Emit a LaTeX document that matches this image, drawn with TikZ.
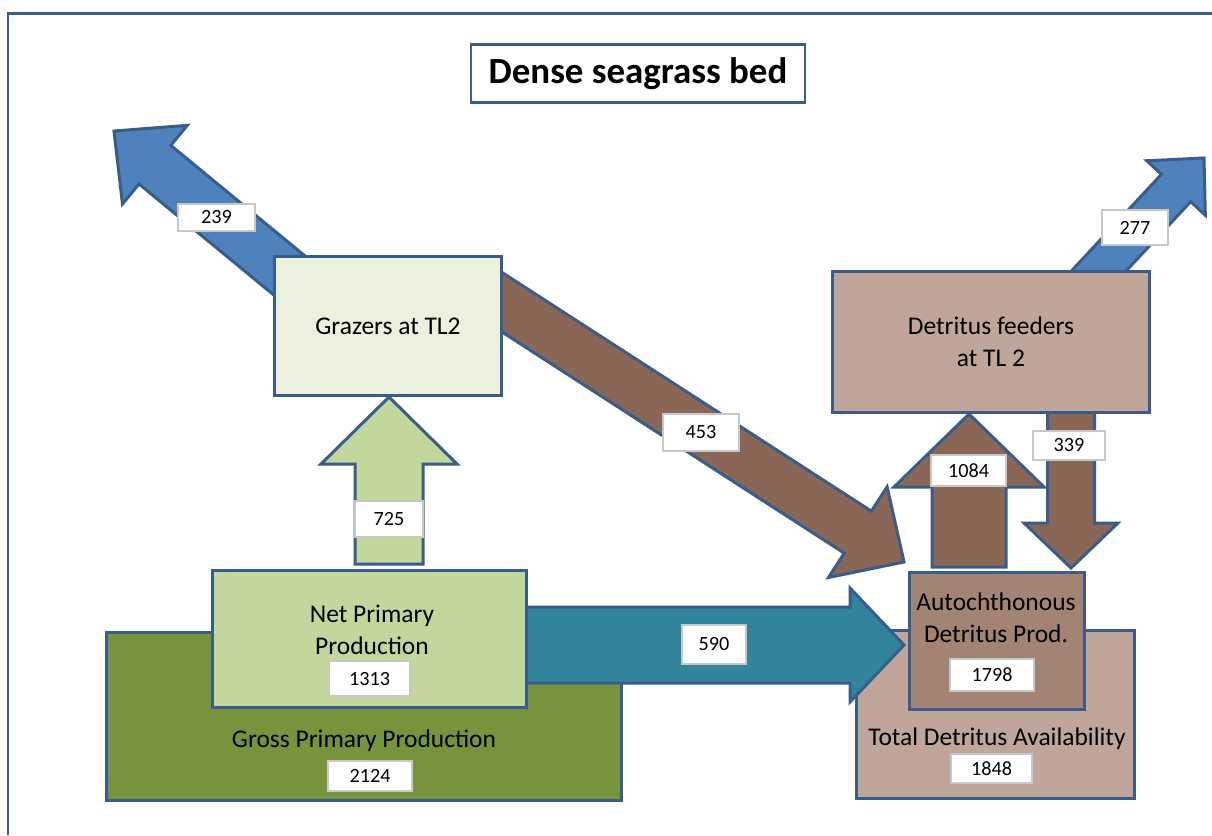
\documentclass[tikz,border=0pt]{standalone}
\usepackage{fontspec}
\setmainfont{Carlito}
\usetikzlibrary{positioning,calc}
\usepackage{xcolor}
\definecolor{lineblue}{HTML}{385D8A}
\definecolor{flowblue}{HTML}{4F81BD}
\definecolor{flowbrown}{HTML}{8A6656}
\definecolor{flowteal}{HTML}{31849B}
\definecolor{nppgreen}{HTML}{C3D69B}
\definecolor{gppgreen}{HTML}{77933C}
\definecolor{grazgreen}{HTML}{EBF1DE}
\definecolor{detlight}{HTML}{C0A69A}
\definecolor{detmid}{HTML}{A38373}
\tikzset{
  pool/.style={draw=lineblue,line width=1.7pt,inner sep=0pt,anchor=north west,align=center,
    font=\fontsize{14.5}{18}\selectfont},
  pooltext/.style={align=center,inner sep=0pt,font=\fontsize{14.5}{18}\selectfont},
  flowline/.style={draw=lineblue,line width=1.7pt,line join=miter},
  flowval/.style={draw=black!22,line width=0.6pt,fill=white,inner sep=0pt,
    font=\fontsize{11.5}{13}\selectfont},
}
% block arrow: from, tip, half shaft, half head, head length, fill (sizes in px)
\newcommand{\flowarrow}[6]{%
  \coordinate (fh) at ($(#2)!#5*0.02cm!(#1)$);
  \draw[flowline,fill=#6]
    ($(#1)!#3*0.02cm!90:(#2)$) -- ($(fh)!#3*0.02cm!90:(#2)$) -- ($(fh)!#4*0.02cm!90:(#2)$)
    -- (#2) -- ($(fh)!#4*0.02cm!-90:(#2)$) -- ($(fh)!#3*0.02cm!-90:(#2)$)
    -- ($(#1)!#3*0.02cm!-90:(#2)$) -- cycle;
}

\begin{document}
\begin{tikzpicture}[x=0.02cm,y=-0.02cm]
  \useasboundingbox[fill=white] (0,0) rectangle (1212,835);
  \draw[lineblue,line width=1.7pt] (8,835) -- (8,13.5) -- (1212,13.5);

  \node[pool,fill=detlight,minimum width=5.56cm,minimum height=3.36cm] (tot) at (855,629) {};
  \node[pool,fill=gppgreen,minimum width=10.3cm,minimum height=3.36cm] (gpp) at (105,631) {};

  % arrow ends
  \coordinate (s239) at (290,276);   \coordinate (t239) at (114,131);
  \coordinate (s277) at (1081,290);  \coordinate (t277) at (1204,158);
  \coordinate (s453) at (480,288);   \coordinate (t453) at (904,562);
  \coordinate (s725) at (389,564);   \coordinate (t725) at (389,397);
  \coordinate (s590) at (515,645);   \coordinate (t590) at (904,645);
  \coordinate (s1084) at (969,567);  \coordinate (t1084) at (969,414);
  \coordinate (s339) at (1071,405);  \coordinate (t339) at (1071,568);

  \flowarrow{s239}{t239}{25}{51}{53}{flowblue}
  \flowarrow{s277}{t277}{20}{40}{41}{flowblue}
  \flowarrow{s453}{t453}{25}{54}{55}{flowbrown}
  \flowarrow{s725}{t725}{34}{68}{67}{nppgreen}
  \flowarrow{s590}{t590}{38}{57}{54}{flowteal}
  \flowarrow{s1084}{t1084}{37}{75}{73}{flowbrown}
  \flowarrow{s339}{t339}{23.5}{47}{45}{flowbrown}

  \node[pool,fill=nppgreen,minimum width=6.28cm,minimum height=2.74cm] (npp) at (211,569) {};
  \node[pool,fill=grazgreen,minimum width=4.54cm,minimum height=2.78cm] (graz) at (273,255) {Grazers at TL2};
  \node[pool,fill=detlight,minimum width=6.34cm,minimum height=2.82cm] (df) at (831,270) {Detritus feeders\\at TL 2};
  \node[pool,fill=detmid,minimum width=3.5cm,minimum height=2.74cm] (aut) at (908,571) {};

  \node[pooltext] (npp-t) at (372,630) {Net Primary\\Production};
  \node[pooltext] (gpp-t) at (364,741) {Gross Primary Production};
  \node[pooltext] (aut-t) at (996,618) {Autochthonous\\Detritus Prod.};
  \node[pooltext] (tot-t) at (997,739) {Total Detritus Availability};

  \foreach \n/\x/\y/\w/\h in {239/216.5/217.5/77/27, 277/1135/227.5/66/35, 453/701/432.5/76/37,
      725/389/519/68/36, 1084/968.5/470.5/75/31, 339/1069/445.5/72/29, 590/714/644.5/64/39,
      1313/369.5/678.5/81/35, 2124/370/776/84/30, 1798/992/675/84/32, 1848/991.5/768.5/81/29}
    \node[flowval,minimum width=\w*0.02cm,minimum height=\h*0.02cm] (v\n) at (\x,\y) {\n};

  \node[draw=lineblue,line width=1.2pt,fill=white,minimum width=6.68cm,minimum height=1.16cm,
        inner sep=0pt,font=\fontsize{21}{24}\selectfont\bfseries] (title) at (638,73.5) {Dense seagrass bed};
\end{tikzpicture}
\end{document}
